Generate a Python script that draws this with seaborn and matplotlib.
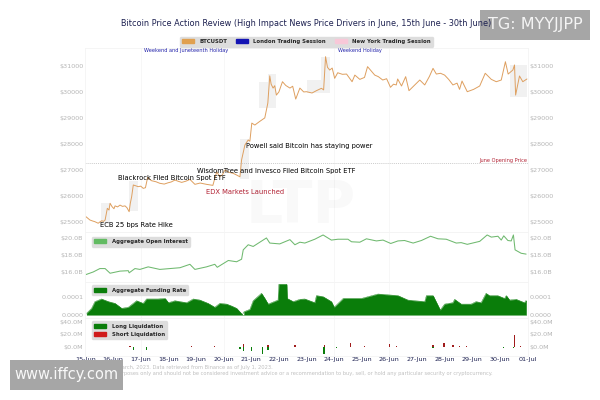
import numpy as np
import pandas as pd
import seaborn as sns
import matplotlib
matplotlib.use("Agg")
import matplotlib.pyplot as plt
from matplotlib.patches import Patch, Rectangle

# ---------- data (days since 15-Jun) ----------
price_days = [.02,.1,.16,.25,.34,.4,.46,.52,.59,.65,.71,.79,.85,.89,.96,1.03,1.07,1.16,1.25,1.34,1.43,1.5,1.58,1.62,1.67,1.73,1.8,1.91,2.0,2.09,2.17,2.25,2.3,2.39,2.55,2.69,2.85,2.99,3.1,3.24,3.35,3.48,3.63,3.78,3.96,4.15,4.38,4.5,4.61,4.68,4.75,4.86,4.95,5.05,5.2,5.33,5.45,5.59,5.65,5.77,5.89,5.95,6.02,6.13,6.3,6.49,6.6,6.67,6.72,6.79,6.85,6.91,7.0,7.13,7.25,7.4,7.5,7.61,7.76,7.9,8.0,8.2,8.36,8.54,8.62,8.69,8.76,8.84,8.93,9.02,9.13,9.3,9.45,9.65,9.75,9.93,10.1,10.21,10.35,10.47,10.6,10.76,10.9,11.04,11.15,11.25,11.3,11.44,11.59,11.71,11.9,12.1,12.28,12.45,12.58,12.7,12.85,13.0,13.15,13.3,13.45,13.54,13.63,13.82,14.05,14.27,14.47,14.58,14.69,14.87,15.05,15.2,15.3,15.47,15.53,15.57,15.63,15.71,15.83,15.98]
price_vals = [25190,25120,25065,25030,25000,24970,24940,24990,25040,25010,25065,25515,25450,25710,25580,25500,25610,25570,25640,25590,25610,25540,25385,25700,25960,26415,26390,26350,26370,26285,26310,26710,26650,26580,26540,26480,26450,26500,26530,26605,26560,26515,26560,26630,26440,26490,26440,26420,26400,26670,26925,26735,26800,26990,26900,26870,26810,26730,27380,27955,28150,28100,28800,28725,28860,29000,29570,30620,30300,30150,30240,29880,30000,30395,30250,30150,30220,29725,30150,30000,30010,29960,30050,30140,30080,31360,30950,30845,30920,30525,30740,30680,30690,30395,30650,30485,30560,30975,30800,30650,30590,30460,30510,30180,30300,30270,30500,30230,30590,30050,30250,30460,30270,30600,30910,30690,30720,30650,30480,30270,30340,30100,30420,30010,30100,30230,30720,30600,30485,30395,30460,31165,30690,30845,31040,29880,30200,30615,30395,30500]

oi_days = [.02,.28,.52,.71,.89,1.25,1.55,1.58,1.79,1.97,2.27,2.69,3.42,3.78,3.96,4.38,4.68,4.77,5.17,5.47,5.65,5.71,5.89,6.07,6.55,6.67,7.03,7.4,7.58,7.76,7.94,8.3,8.6,8.9,9.14,9.5,9.63,9.93,10.17,10.53,10.77,11.05,11.31,11.55,11.86,12.16,12.49,12.76,13.06,13.42,13.6,13.82,14.27,14.54,14.69,14.93,15.05,15.14,15.29,15.41,15.49,15.55,15.77,15.95]
oi_vals = [15.7,16.0,16.4,16.4,15.85,16.1,16.15,15.9,16.4,16.3,16.6,16.3,16.5,16.9,16.3,16.6,16.9,16.55,17.35,17.2,17.5,18.6,19.2,19.0,20.0,19.4,19.3,19.8,19.2,19.5,19.4,19.85,20.35,19.75,19.85,19.85,19.55,19.5,19.9,19.65,19.75,19.35,19.65,19.7,19.4,19.7,20.2,19.9,19.85,19.4,19.45,19.25,19.6,20.35,20.1,20.2,19.75,20.25,19.7,19.65,20.35,18.6,18.2,18.1]

fund_days = [.04,.22,.34,.58,.83,1.07,1.31,1.55,1.85,2.09,2.21,2.63,2.88,3.0,3.24,3.42,3.66,3.9,4.14,4.44,4.68,4.86,5.11,5.29,5.47,5.68,5.74,5.95,6.07,6.37,6.49,6.61,6.97,7.0,7.28,7.3,7.52,7.76,7.94,8.3,8.36,8.6,8.9,9.0,9.33,9.99,10.59,11.31,11.67,11.92,12.28,12.34,12.58,12.84,13.0,13.3,13.36,13.6,13.96,14.14,14.32,14.5,14.62,14.92,15.17,15.23,15.35,15.59,15.89,15.95]
fund_vals = [.08,.36,.74,.89,.74,.64,.36,.42,.79,.64,.89,.89,.92,.68,.79,.74,.68,.89,.83,.64,.42,.64,.6,.49,.36,0,.17,.3,.79,1.21,.92,.6,.83,1.72,1.72,.92,.74,.87,.89,.68,1.08,1.02,.74,.42,.92,.92,1.17,1.08,.83,.79,.74,1.08,1.08,.26,.6,.68,.87,.6,.6,.74,.68,1.21,1.08,1.08,.92,1.08,.83,.87,.68,.81]

long_days = [.83,1.73,2.21,5.59,5.71,6.01,6.41,6.61,8.63,9.08,9.41,12.58,14.45,15.14,15.5]
long_vals = [-1,-6.5,-5,-4,-8,-7,-12,-6.5,-12,-2,-1,-3,-1,-2,-3]
short_days = [1.61,3.84,4.68,5.71,6.61,7.58,8.66,9.6,10.1,11.0,11.25,12.58,12.98,13.3,13.54,13.78,15.53,15.75]
short_vals = [1,.5,1.5,4.5,3,2,2,5,.5,4,.7,2,5,2,1.5,1,18,1]

tick_labels = ["15-Jun","16-Jun","17-Jun","18-Jun","19-Jun","20-Jun","21-Jun","22-Jun","23-Jun","24-Jun","25-Jun","26-Jun","27-Jun","28-Jun","29-Jun","30-Jun","01-Jul"]
price_ticks = [25000,26000,27000,28000,29000,30000,31000]
# event highlights: start day, end day, low price, high price
span_start = [.57,1.58,5.59,6.27,6.6,8.0,8.54,15.35]
span_end = [.89,1.91,5.91,6.6,6.91,8.54,8.86,15.98]
span_low = [24900,25400,26650,29400,29400,29950,29950,29800]
span_high = [25710,26550,28200,30380,30700,30450,31350,31030]

sns.set_theme(style="white")
plt.rcParams['font.family'] = ['DejaVu Sans']
W, H = 600, 400
fig = plt.figure(figsize=(6, 4), dpi=100, facecolor="white")
def mk(top, bottom):
    return fig.add_axes([85.5/W, 1-bottom/H, (527.5-85.5)/W, (bottom-top)/H])
ax1, ax2, ax3, ax4 = mk(48,232), mk(232,282), mk(282,318), mk(318,356)
GR = "#b5b5b5"; NAVY = "#1c2050"
for a in (ax1, ax2, ax3, ax4):
    a.set_xlim(0, 16)
    a.set_xticks(range(17))
    a.tick_params(axis="both", length=0, labelsize=4.6, labelcolor=GR, pad=1.5, labelright=True, right=False)
    a.tick_params(axis="x", labelbottom=False)
    a.set_xlabel(""); a.set_ylabel("")
    for s in a.spines.values():
        s.set_color("#f4f4f4"); s.set_linewidth(0.6)
    a.patch.set_alpha(0)
    for d in (2, 5, 9, 11):
        a.axvline(d, color="#f6f6f6", lw=0.6, zorder=0)

# price
for s, e, l, h in zip(span_start, span_end, span_low, span_high):
    ax1.fill_between([s, e], l, h, color="#f1f1f1", lw=0, zorder=0)
sns.lineplot(x=price_days, y=price_vals, ax=ax1, color="#de9f5f", lw=0.7, errorbar=None, estimator=None)
ax1.set_ylim(24603, 31694)
ax1.set_yticks(price_ticks)
ax1.set_yticklabels([f"${v}" for v in price_ticks])
ax1.axhline(27260, color="#b9b9b9", lw=0.5, ls=(0, (1.5, 1.5)))
fs = 4.9
for x, y, t, c in [(0.53, 24870, "ECB 25 bps Rate Hike", "black"),
                   (1.16, 26690, "Blackrock Filed Bitcoin Spot ETF", "black"),
                   (4.05, 26960, "WisdomTree and Invesco Filed Bitcoin Spot ETF", "black"),
                   (5.8, 27930, "Powell said Bitcoin has staying power", "black"),
                   (4.35, 26150, "EDX Markets Launched", "#b22234")]:
    ax1.text(x, y, t, fontsize=fs, color=c, va="center", ha="left", family="DejaVu Sans")
ax1.text(15.98, 27340, "June Opening Price", fontsize=3.6, color="#b22234", ha="right", va="center")
ax1.text(2.12, 31600, "Weekend and Juneteenth Holiday", fontsize=3.6, color="#2222aa", va="center")
ax1.text(9.15, 31600, "Weekend Holiday", fontsize=3.6, color="#2222aa", va="center")
ax1.text(7.8, 25600, "LTP", fontsize=42, color="#000000", alpha=0.025, ha="center", va="center", weight="bold")
ax1.legend(handles=[Patch(color="#e0a050", label="BTCUSDT"), Patch(color="#1414b4", label="London Trading Session"),
                    Patch(color="#f8c8d8", label="New York Trading Session")],
           loc="lower center", bbox_to_anchor=(0.5, 0.993), ncol=3, fontsize=3.9, frameon=True, facecolor="#dddddd",
           edgecolor="#dddddd", prop={"size": 3.9, "weight": "bold"}, columnspacing=1.6, handlelength=2.2, handleheight=0.7,
           borderpad=0.45, handletextpad=1.0, framealpha=1)

# open interest
sns.lineplot(x=oi_days, y=oi_vals, ax=ax2, color="#6fb96f", lw=0.75, errorbar=None, estimator=None)
ax2.set_ylim(14.82, 20.7)
ax2.set_yticks([16, 18, 20])
ax2.set_yticklabels(["$16.0B", "$18.0B", "$20.0B"])
lk = dict(loc="upper left", frameon=True, facecolor="#dddddd", edgecolor="#dddddd", framealpha=1,
          prop={"size": 3.9, "weight": "bold"}, handlelength=2.2, handleheight=0.7, borderpad=0.45, handletextpad=1.0,
          labelspacing=0.5, bbox_to_anchor=(0.008, 0.96))
ax2.legend(handles=[Patch(color="#62bb62", label="Aggregate Open Interest")], **lk)

# funding
fd = np.array(fund_days); fv = np.array(fund_vals) * 1e-4
cut = fund_days.index(5.74)
ax3.fill_between(fd[:cut], 0, fv[:cut], color="#0a7d0a", lw=0.3)
ax3.fill_between(fd[cut:], 0, fv[cut:], color="#0a7d0a", lw=0.3)
sns.lineplot(x=fund_days, y=fv, ax=ax3, color="#0a7d0a", lw=0.3, errorbar=None, estimator=None)
ax3.axhline(0, color="#79b979", lw=0.6, xmin=0.004, xmax=0.996)
ax3.set_ylim(-0.0000186, 0.000185)
ax3.set_yticks([0, 0.0001])
ax3.set_yticklabels(["0.0000", "0.0001"])
ax3.legend(handles=[Patch(color="#0a7d0a", label="Aggregate Funding Rate")], **{**lk, "bbox_to_anchor": (0.008, 0.98)})

# liquidation
ax4.bar(long_days, long_vals, width=0.045, color="#0a7d0a", lw=0)
ax4.bar(short_days, short_vals, width=0.045, color="#a01c1c", lw=0)
ax4.set_ylim(-15.5, 46.5)
ax4.set_yticks([0, 20, 40])
ax4.set_yticklabels(["$0.0M", "$20.0M", "$40.0M"])
ax4.set_xticks(range(17))
ax4.set_xticklabels(tick_labels)
ax4.tick_params(axis="x", labelbottom=True, labelsize=4.6, labelcolor=NAVY, pad=0.5)
ax4.legend(handles=[Patch(color="#0a7d0a", label="Long Liquidation"), Patch(color="#d01c1c", label="Short Liquidation")],
           **{**lk, "bbox_to_anchor": (0.008, 0.98)})

# overlays and text
fig.add_artist(Rectangle((480/W, 1-40/H), 110/W, 30/H, transform=fig.transFigure, color="#a6a6a6", lw=0, zorder=5))
fig.add_artist(Rectangle((10/W, 1-390/H), 113/W, 30/H, transform=fig.transFigure, color="#a6a6a6", lw=0, zorder=5))
fig.text(306/W, 1-23/H, "Bitcoin Price Action Review (High Impact News Price Drivers in June, 15th June - 30th June)",
         fontsize=5.9, color=NAVY, ha="center", va="center", zorder=6)
fig.text(79/W, 1-368/H, "Source: LTP Research, 2023. Data retrieved from Binance as of July 1, 2023.", fontsize=3.7, color="#c0c0c0", va="center", zorder=1)
fig.text(493/W, 1-373/H, "This is for informational purposes only and should not be considered investment advice or a recommendation to buy, sell, or hold any particular security or cryptocurrency.",
         fontsize=3.7, color="#c0c0c0", va="center", ha="right", zorder=1)
fig.text(535/W, 1-25/H, "TG: MYYJJPP", fontsize=11.5, color="#f4f4f4", ha="center", va="center", zorder=7)
fig.text(66/W, 1-375/H, "www.iffcy.com", fontsize=10.5, color="#f8f8f8", ha="center", va="center", zorder=7)
fig.savefig("out.png", dpi=100)
